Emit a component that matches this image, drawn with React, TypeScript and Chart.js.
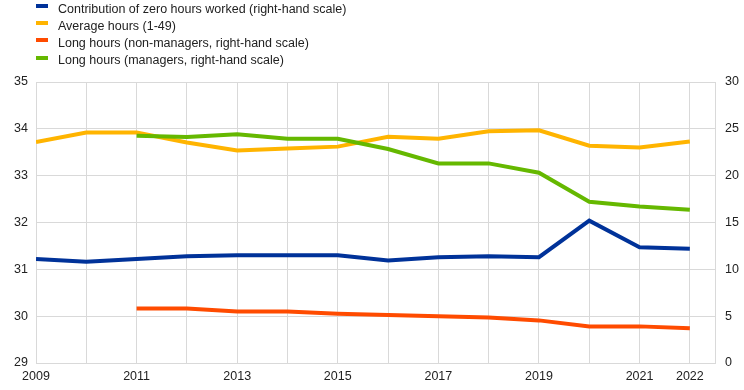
import React, { useEffect, useRef } from "react";
import { Chart, registerables } from "chart.js";

Chart.register(...registerables);

const years = [2009, 2010, 2011, 2012, 2013, 2014, 2015, 2016, 2017, 2018, 2019, 2020, 2021, 2022];
const zeroHours = [11.1, 10.8, 11.1, 11.4, 11.5, 11.5, 11.5, 10.95, 11.3, 11.4, 11.3, 15.2, 12.35, 12.2];
const averageHours = [33.72, 33.92, 33.92, 33.71, 33.54, 33.58, 33.62, 33.83, 33.79, 33.95, 33.97, 33.64, 33.6, 33.73];
const longNonManagers = [null, null, 5.83, 5.83, 5.51, 5.51, 5.26, 5.12, 4.98, 4.87, 4.55, 3.91, 3.91, 3.7];
const longManagers = [null, null, 24.27, 24.13, 24.41, 23.95, 23.95, 22.85, 21.31, 21.31, 20.32, 17.22, 16.72, 16.37];
const xLabelYears = [2009, 2011, 2013, 2015, 2017, 2019, 2021, 2022];

const labels = [
  "Contribution of zero hours worked (right-hand scale)",
  "Average hours (1-49)",
  "Long hours (non-managers, right-hand scale)",
  "Long hours (managers, right-hand scale)",
];
const colors = ["#003299", "#FFB400", "#FF4B00", "#65B800"];

const FONT = "Arial, 'Liberation Sans', sans-serif";
const GRID = "#d9d9d9";
const FS = 12.5;

function pts(vals: (number | null)[]) {
  return years.map((yr, i) => ({ x: yr, y: vals[i] }));
}

export default function App() {
  const ref = useRef<HTMLCanvasElement | null>(null);

  useEffect(() => {
    document.body.style.margin = "0";
    const ctx = ref.current!;
    const common = { borderWidth: 4, pointRadius: 0, pointHoverRadius: 0, tension: 0, fill: false, spanGaps: false };
    const chart = new Chart(ctx, {
      type: "line",
      data: {
        datasets: [
          { label: labels[0], data: pts(zeroHours), borderColor: colors[0], backgroundColor: colors[0], yAxisID: "y2", order: 1, ...common },
          { label: labels[1], data: pts(averageHours), borderColor: colors[1], backgroundColor: colors[1], yAxisID: "y1", order: 2, ...common },
          { label: labels[2], data: pts(longNonManagers), borderColor: colors[2], backgroundColor: colors[2], yAxisID: "y2", order: 1, ...common },
          { label: labels[3], data: pts(longManagers), borderColor: colors[3], backgroundColor: colors[3], yAxisID: "y2", order: 0, ...common },
        ] as any,
      },
      options: {
        animation: false,
        responsive: false,
        maintainAspectRatio: false,
        layout: { padding: { top: 82, left: 0, right: 0, bottom: 0 } },
        plugins: { legend: { display: false }, tooltip: { enabled: false } },
        scales: {
          x: {
            type: "linear",
            min: 2009,
            max: 2022.5,
            grid: { color: GRID, drawTicks: false, lineWidth: 1 },
            border: { color: GRID },
            ticks: {
              stepSize: 1,
              includeBounds: false,
              autoSkip: false,
              maxRotation: 0,
              padding: 6,
              color: "#222",
              font: { family: FONT, size: FS },
              callback: (v: any) => (xLabelYears.includes(Number(v)) ? String(v) : ""),
            },
            afterFit: (s: any) => {
              s.height = 27;
            },
          },
          y1: {
            type: "linear",
            position: "left",
            min: 29,
            max: 35,
            grid: { color: GRID, drawTicks: false },
            border: { color: GRID },
            ticks: { stepSize: 1, padding: 8, color: "#222", font: { family: FONT, size: FS } },
            afterFit: (s: any) => {
              s.width = 36;
            },
          },
          y2: {
            type: "linear",
            position: "right",
            min: 0,
            max: 30,
            grid: { display: false, drawTicks: false },
            border: { color: GRID },
            ticks: { stepSize: 5, padding: 10, color: "#222", font: { family: FONT, size: FS } },
            afterFit: (s: any) => {
              s.width = 29;
            },
          },
        },
      } as any,
    });
    return () => chart.destroy();
  }, []);

  return (
    <div style={{ position: "relative", width: 744, height: 390, background: "#fff", fontFamily: FONT }}>
      <canvas ref={ref} width={744} height={390} style={{ position: "absolute", left: 0, top: 0, width: 744, height: 390 }} />
      {labels.map((l, i) => (
        <div
          key={l}
          style={{ position: "absolute", left: 0, top: i * 17.2, height: 17, lineHeight: "17px", fontSize: FS, color: "#222", whiteSpace: "nowrap" }}
        >
          <span style={{ position: "absolute", left: 36, top: 4, width: 12, height: 4, background: colors[i] }} />
          <span style={{ position: "absolute", left: 58, top: 0.5 }}>{l}</span>
        </div>
      ))}
    </div>
  );
}
